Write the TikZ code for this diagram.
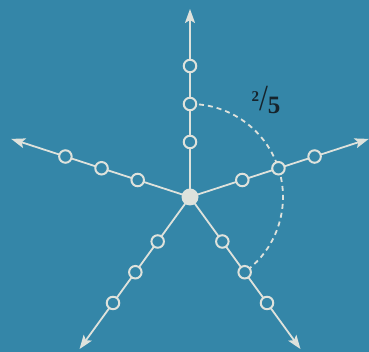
\documentclass[tikz,border=0pt]{standalone}
\usepackage{fontspec}
\setmainfont{Liberation Serif}
\usetikzlibrary{arrows.meta}
\definecolor{bg}{RGB}{52,134,168}
\definecolor{ln}{RGB}{222,226,220}
\definecolor{ink}{RGB}{22,36,44}
\begin{document}
\begin{tikzpicture}[x=1pt,y=1pt,
  bead/.style={circle,draw=ln,line width=2pt,fill=bg,minimum size=12.5pt,inner sep=0pt},
  hub/.style={circle,fill=ln,minimum size=17pt,inner sep=0pt},
  ray/.style={draw=ln,line width=1.8pt,-{Stealth[length=14pt,width=10pt,inset=3pt]}},
  arcd/.style={draw=ln,line width=1.8pt,dash pattern=on 5pt off 4pt},
  lab/.style={text=ink,inner sep=0pt}]
\fill[bg] (0,0) rectangle (369,352);
\useasboundingbox (0,0) rectangle (369,352);
\coordinate (O) at (190,155);
\foreach \a [count=\i] in {90,18,162,234,306} {
  \coordinate (t\i) at ([shift={(\a:188)}]O);
  \foreach \r [count=\j] in {55,93,131} {
    \coordinate (p\i\j) at ([shift={(\a:\r)}]O);
  }
}
\draw[arcd] (p12) arc[start angle=90,end angle=-54,radius=93];
\foreach \i in {1,...,5} {
  \draw[ray] (O) -- (t\i);
}
\foreach \i in {1,...,5} {
  \foreach \j in {1,2,3} {
    \node[bead] (n\i\j) at (p\i\j) {};
  }
}
\node[hub] (c) at (O) {};
\node[lab] (frac) at (266,252) {\bfseries\raisebox{9pt}{\fontsize{15}{15}\selectfont 2}{\fontsize{32}{32}\selectfont\mdseries\scalebox{1}[1.15]{/}}\raisebox{-3pt}{\fontsize{25}{25}\selectfont 5}};
\end{tikzpicture}
\end{document}
